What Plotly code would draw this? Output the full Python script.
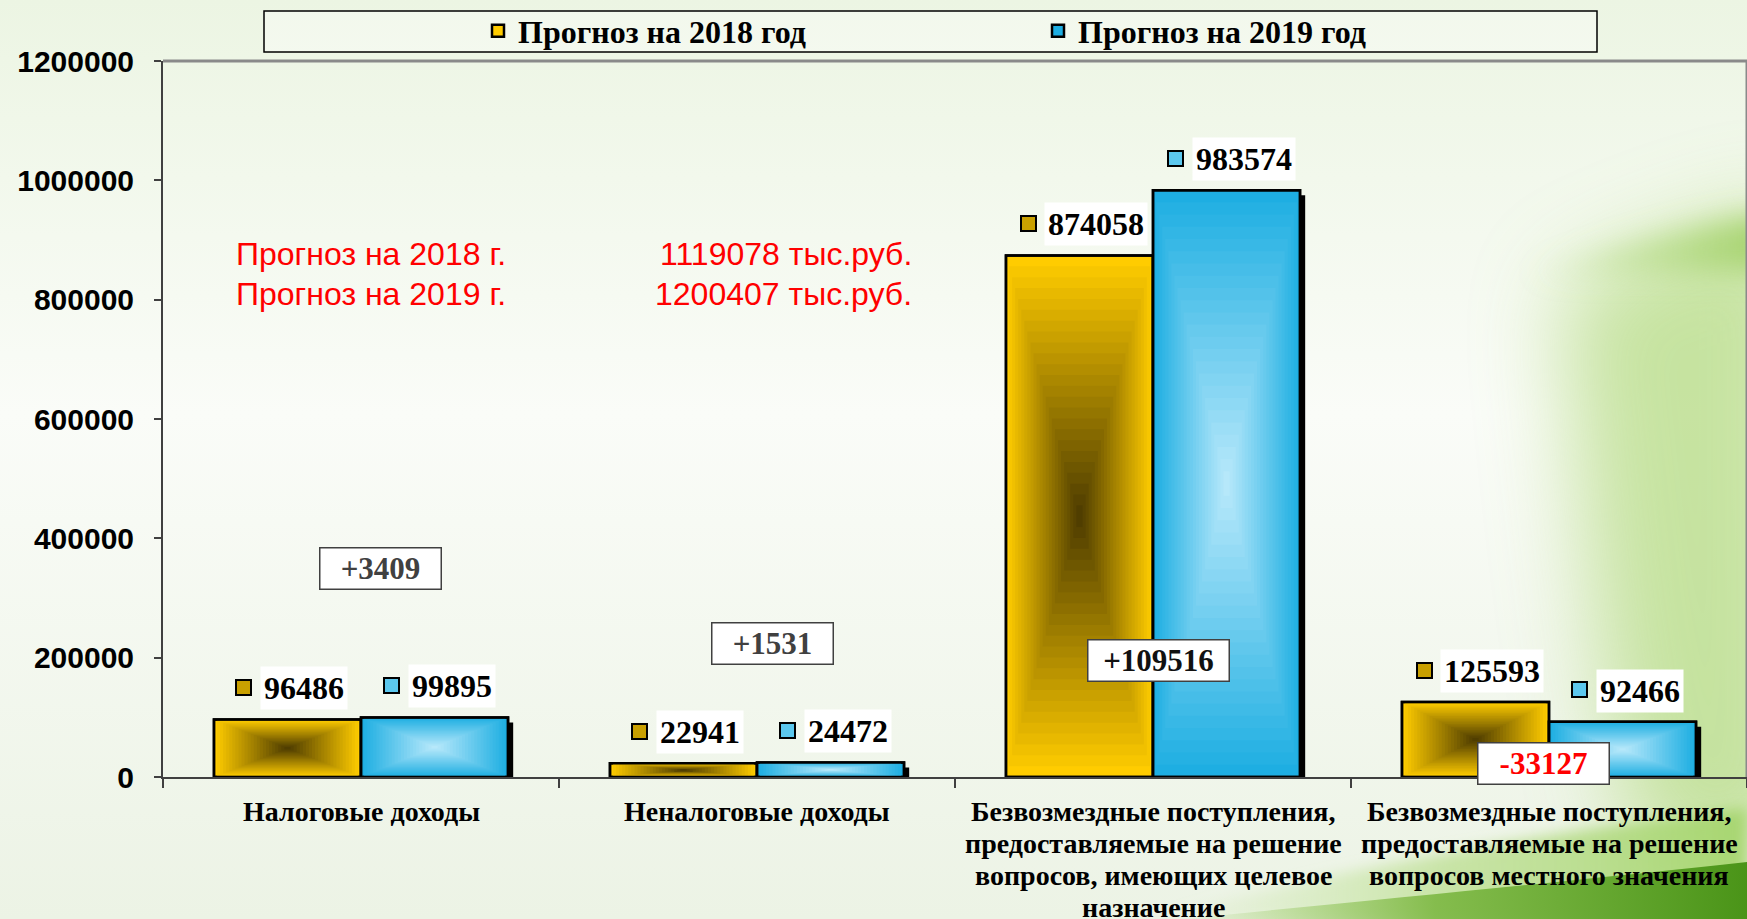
import base64
import plotly.graph_objects as go

# ---------------- data ----------------
categories = [
    "Налоговые доходы",
    "Неналоговые доходы",
    "Безвозмездные поступления,<br>предоставляемые на решение<br>вопросов, имеющих целевое<br>назначение",
    "Безвозмездные поступления,<br>предоставляемые на решение<br>вопросов местного значения",
]
forecast_2018 = [96486, 22941, 874058, 125593]
forecast_2019 = [99895, 24472, 983574, 92466]
series_names = ["Прогноз на 2018 год", "Прогноз на 2019 год"]
total_labels = ["Прогноз на 2018 г.", "Прогноз на 2019 г."]
y_ticks = [0, 200000, 400000, 600000, 800000, 1000000, 1200000]

# ---------------- layout constants ----------------
W, H = 1747, 919
ML, MR, MT, MB = 163, 0, 61, 142
PW, PH = W - ML - MR, H - MT - MB
BAR_W = 0.3713
N_LAYERS = 24

YEL_EDGE, YEL_CENTER = (255, 204, 0), (80, 62, 0)
BLU_EDGE, BLU_CENTER = (30, 174, 226), (182, 232, 250)
serif = "Liberation Serif"


def lerp(c1, c2, t):
    return tuple(round(a + (b - a) * t) for a, b in zip(c1, c2))


def rgb(c):
    return f"rgb({c[0]},{c[1]},{c[2]})"


fig = go.Figure()

# background picture (soft green slide background)
svg = f'''<svg xmlns="http://www.w3.org/2000/svg" width="{W}" height="{H}" viewBox="0 0 {W} {H}">
<defs>
<filter id="blur" x="-50%" y="-50%" width="200%" height="200%"><feGaussianBlur stdDeviation="45"/></filter>
<filter id="blur2" x="-50%" y="-50%" width="200%" height="200%"><feGaussianBlur stdDeviation="7"/></filter>
<filter id="blur3" x="-50%" y="-50%" width="200%" height="200%"><feGaussianBlur stdDeviation="14"/></filter>
<linearGradient id="bg" x1="0" y1="0" x2="0" y2="1">
<stop offset="0" stop-color="#ECF5E3"/>
<stop offset="0.45" stop-color="#FAFCF8"/>
<stop offset="1" stop-color="#ECF3E5"/>
</linearGradient>
<linearGradient id="sw" x1="0" y1="0" x2="1" y2="0">
<stop offset="0" stop-color="#9CCB63" stop-opacity="0"/>
<stop offset="0.45" stop-color="#7DB843" stop-opacity="0.9"/>
<stop offset="1" stop-color="#4A9418"/>
</linearGradient>
<linearGradient id="swl" x1="0" y1="0" x2="1" y2="0">
<stop offset="0" stop-color="#C8E6A4" stop-opacity="0"/>
<stop offset="0.5" stop-color="#B8DD8A" stop-opacity="0.7"/>
<stop offset="1" stop-color="#A3D46A" stop-opacity="0.9"/>
</linearGradient>
<linearGradient id="streak" x1="0" y1="0" x2="1" y2="0">
<stop offset="0" stop-color="#A9D672" stop-opacity="0"/>
<stop offset="1" stop-color="#98CC58" stop-opacity="0.85"/>
</linearGradient>
</defs>
<rect width="{W}" height="{H}" fill="url(#bg)"/>
<path d="M1560,290 C1640,250 1700,225 {W+60},205 L{W+60},860 L1640,860 C1600,700 1580,500 1560,290 Z" fill="#B6DB84" opacity="0.75" filter="url(#blur)"/>
<path d="M1520,275 C1620,245 1700,222 {W+40},210 L{W+40},270 C1700,270 1620,275 1520,275 Z" fill="url(#streak)" filter="url(#blur3)"/>
<path d="M1150,919 C1380,858 1580,828 {W},808 L{W},{H} Z" fill="url(#swl)" filter="url(#blur2)"/>
<path d="M1180,919 C1400,898 1600,878 {W},862 L{W},{H} Z" fill="url(#sw)"/>
</svg>'''
fig.add_layout_image(
    source="data:image/svg+xml;base64," + base64.b64encode(svg.encode()).decode(),
    xref="paper", yref="paper",
    x=-ML / PW, y=1 + MT / PH, sizex=W / PW, sizey=H / PH,
    xanchor="left", yanchor="top", sizing="stretch", layer="below",
)

# shadow behind the bar pair
fig.add_bar(
    x=categories, y=[v - 8400 for v in forecast_2019], offset=0.013, width=BAR_W,
    marker=dict(color="black", line=dict(width=0)), showlegend=False, hoverinfo="skip",
)


def add_gradient_bars(values, off0, edge, center, name):
    for k in range(N_LAYERS):
        t = k / N_LAYERS
        col = lerp(edge, center, (k / (N_LAYERS - 1)))
        fig.add_bar(
            x=categories,
            y=[v * (1 - t) for v in values],
            base=[v * t / 2 for v in values],
            width=BAR_W * (1 - t),
            offset=off0 + BAR_W * t / 2,
            marker=dict(color=rgb(col), line=dict(color="black", width=2.5 if k == 0 else 0)),
            name=f"<b>{name}</b>", legendgroup=name, showlegend=(k == 0),
            hoverinfo="skip" if k else None,
        )
    # outline on top
    fig.add_bar(
        x=categories, y=values, offset=off0, width=BAR_W,
        marker=dict(color="rgba(0,0,0,0)", line=dict(color="black", width=2.5)),
        showlegend=False, hoverinfo="skip",
    )


add_gradient_bars(forecast_2018, -BAR_W, YEL_EDGE, YEL_CENTER, series_names[0])
add_gradient_bars(forecast_2019, 0.0, BLU_EDGE, BLU_CENTER, series_names[1])

# ---------------- annotations ----------------
ann = []
sq_colors = ["#C9A000", "#5CC8EE"]
for s_idx, (vals, xoff) in enumerate([(forecast_2018, -BAR_W / 2), (forecast_2019, BAR_W / 2)]):
    for i, v in enumerate(vals):
        txt = str(v)
        nshift = 17
        ann.append(dict(
            x=i + xoff, y=v, xref="x", yref="y", text=f"<b>{txt}</b>", showarrow=False,
            xshift=nshift, yshift=31, font=dict(family=serif, size=32, color="black"),
            bgcolor="white", borderpad=3,
        ))
        ann.append(dict(
            x=i + xoff, y=v, xref="x", yref="y", text=" ", showarrow=False,
            xshift=nshift - 7.5 * len(txt) - 23, yshift=32, width=13, height=13,
            font=dict(size=6), bgcolor=sq_colors[s_idx], bordercolor="black",
            borderwidth=2, borderpad=0,
        ))

# category labels (one annotation per line for tighter line spacing)
for i, cat in enumerate(categories):
    for j, line in enumerate(cat.split("<br>")):
        ann.append(dict(
            x=i, y=0, xref="x", yref="paper", yanchor="middle", showarrow=False,
            yshift=-34 - 32 * j, text=f"<b>{line}</b>",
            font=dict(family=serif, size=28, color="black"),
        ))

# differences boxes
diffs = [b - a for a, b in zip(forecast_2018, forecast_2019)]
diff_pos = [(0.05, 350000), (0.04, 223000), (0.015, 196000), (-0.013, 21800)]
diff_colors = ["#404040", "#404040", "#111111", "#FF0000"]
for i, d in enumerate(diffs):
    txt = f"{d:+d}"
    ann.append(dict(
        x=i + diff_pos[i][0], y=diff_pos[i][1], xref="x", yref="y",
        text=f"<b>{txt}</b>", showarrow=False,
        font=dict(family=serif, size=31, color=diff_colors[i]),
        bgcolor="white", bordercolor="#404040", borderwidth=1.5,
        width=10 * len(txt) + 70, height=40, borderpad=0,
    ))

# totals in red
totals = [sum(forecast_2018), sum(forecast_2019)]
for j in range(2):
    yy = (MT + PH - (254 + 40 * j)) / PH
    ann.append(dict(
        x=(234 - ML) / PW, y=yy, xref="paper", yref="paper", xanchor="left", yanchor="middle",
        text=total_labels[j], showarrow=False,
        font=dict(family="Liberation Sans", size=32, color="#FF0000"),
    ))
    ann.append(dict(
        x=(914 - ML) / PW, y=yy, xref="paper", yref="paper", xanchor="right", yanchor="middle",
        text=f"{totals[j]} тыс.руб.", showarrow=False,
        font=dict(family="Liberation Sans", size=32, color="#FF0000"),
    ))

shapes = [
    # legend frame
    dict(type="rect", xref="paper", yref="paper",
         x0=(264 - ML) / PW, x1=(1597 - ML) / PW,
         y0=1 + (MT - 52) / PH, y1=1 + (MT - 11) / PH,
         line=dict(color="black", width=1.5), fillcolor="rgba(255,255,255,0.35)", layer="below"),
    # plot frame top & right
    dict(type="line", xref="paper", yref="paper", x0=0, x1=1, y0=1, y1=1,
         line=dict(color="#8A8A8A", width=3)),
    dict(type="line", xref="paper", yref="paper", x0=1, x1=1, y0=0, y1=1,
         line=dict(color="#8A8A8A", width=3)),
]

fig.update_layout(
    width=W, height=H,
    margin=dict(l=ML, r=MR, t=MT, b=MB, autoexpand=False),
    barmode="overlay",
    paper_bgcolor="#F6FAF2", plot_bgcolor="rgba(0,0,0,0)",
    showlegend=True,
    legend=dict(
        orientation="h", xref="container", yref="container",
        x=478 / W, y=1 - 31 / H, xanchor="left", yanchor="middle",
        font=dict(family=serif, size=32, color="black"),
        entrywidth=515, entrywidthmode="pixels",
        bgcolor="rgba(0,0,0,0)", borderwidth=0, itemclick=False,
    ),
    xaxis=dict(
        type="category", categoryorder="array", categoryarray=categories,
        range=[-0.5, 3.5], tickson="boundaries", ticks="outside", ticklen=9,
        tickcolor="#404040", tickwidth=1.5, showticklabels=False,
        showline=True, linecolor="#404040", linewidth=1.5,
        showgrid=False, zeroline=False, automargin=False,
    ),
    yaxis=dict(
        range=[0, 1200000], tickvals=y_ticks, ticktext=[str(t) for t in y_ticks],
        ticks="outside", ticklen=7, tickcolor="#404040", tickwidth=1.5,
        showline=True, linecolor="#404040", linewidth=2,
        showgrid=False, zeroline=False, automargin=False,
        tickfont=dict(family="Liberation Sans", size=30, color="black", weight="bold"),
        ticklabelstandoff=14,
    ),
    annotations=ann,
    shapes=shapes,
    font=dict(family=serif),
)

fig.write_html(
    "out.html",
    config={"displayModeBar": False},
    post_script="document.body.style.margin='0';document.body.style.overflow='hidden';",
)
